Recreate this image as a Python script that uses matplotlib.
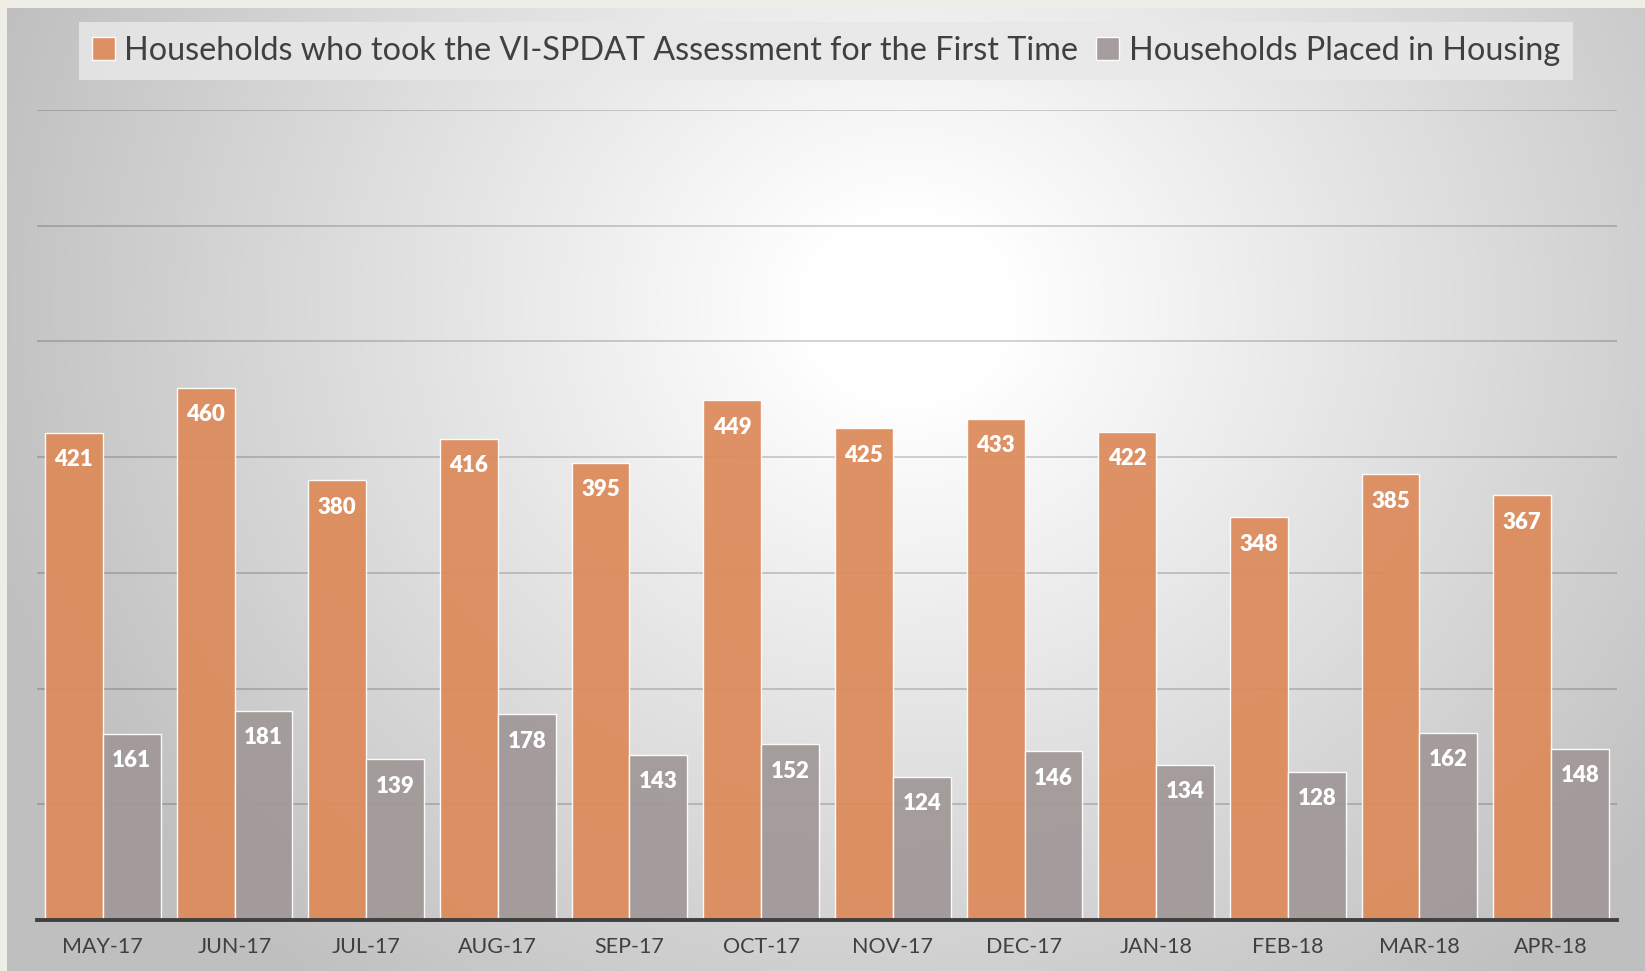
import numpy as np
import matplotlib
matplotlib.use("Agg")
import matplotlib.pyplot as plt

months = ["MAY-17", "JUN-17", "JUL-17", "AUG-17", "SEP-17", "OCT-17",
          "NOV-17", "DEC-17", "JAN-18", "FEB-18", "MAR-18", "APR-18"]
first_time = [421, 460, 380, 416, 395, 449, 425, 433, 422, 348, 385, 367]
placed = [161, 181, 139, 178, 143, 152, 124, 146, 134, 128, 162, 148]

label_first = "Households who took the VI-SPDAT Assessment for the First Time"
label_placed = "Households Placed in Housing"

orange = "#DD8C5C"
grey = "#A29999"
text_col = "#404040"

plt.rcParams['font.family'] = ['Lato', 'DejaVu Sans']

W, H = 1645, 971
fig = plt.figure(figsize=(W / 100, H / 100), dpi=100, facecolor="#EEEEE7")

# radial gradient background
bg = fig.add_axes([7 / W, 0, 1 - 7 / W, 1 - 8 / H])
yy, xx = np.mgrid[0:963, 0:1638]
d = np.hypot((xx - 900) / 1.0, (yy - 300) / 0.9)
v = 1 - 0.25 * np.clip((d - 100) / 860, 0, 1) ** 1.0
bg.imshow(np.dstack([v, v, v]), aspect='auto', extent=(0, 1, 0, 1), origin='upper')
bg.set_axis_off()

ax = fig.add_axes([37 / W, 1 - 920 / H, 1580 / W, 810 / H])
ax.set_facecolor("none")

x = np.arange(len(months))
w = 0.44
b1 = ax.bar(x - w / 2, first_time, w, color=orange, alpha=0.95,
            edgecolor=(1, 1, 1, 0.5), linewidth=1, label=label_first, zorder=3)
b2 = ax.bar(x + w / 2, placed, w, color=grey, alpha=0.95,
            edgecolor=(1, 1, 1, 0.5), linewidth=1, label=label_placed, zorder=3)

for bars in (b1, b2):
    ax.bar_label(bars, padding=-27, color="white", fontsize=16,
                 fontweight="heavy", zorder=4)

ax.set_xlim(-0.5, len(months) - 0.5)
ax.set_ylim(0, 700)
ax.set_yticks(range(0, 701, 100))
ax.yaxis.grid(True, color="black", alpha=0.2, linewidth=1.2, zorder=1)
ax.tick_params(axis='y', left=False, labelleft=False)
ax.set_xticks(x)
ax.set_xticklabels(months, color=text_col, fontsize=15.5)
ax.tick_params(axis='x', length=0, pad=12)
for s in ("top", "right", "left"):
    ax.spines[s].set_visible(False)
ax.spines["bottom"].set_color(text_col)
ax.spines["bottom"].set_linewidth(2.8)
ax.spines["bottom"].set_zorder(5)

leg = fig.legend(handles=[b1, b2], loc="center", bbox_to_anchor=(826 / W, 1 - 51 / H),
                 ncol=2, frameon=True, fancybox=False, facecolor="#E8E8E8",
                 edgecolor="none", framealpha=0.85, fontsize=23.3,
                 handlelength=0.7, handleheight=0.7, handletextpad=0.3,
                 columnspacing=0.55, borderpad=0.42, labelcolor=text_col)

fig.savefig("out.png", dpi=100, facecolor=fig.get_facecolor())
